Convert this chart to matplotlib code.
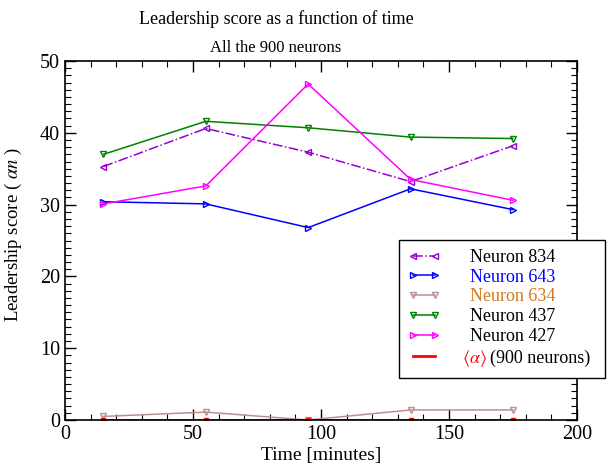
import matplotlib
matplotlib.use("Agg")
import matplotlib.pyplot as plt
from matplotlib.ticker import MultipleLocator

plt.rcParams['font.family'] = ['Liberation Serif', 'DejaVu Serif']
plt.rcParams['mathtext.fontset'] = 'stix'

time = [15, 55, 95, 135, 175]
n834 = [35.3, 40.6, 37.3, 33.2, 38.2]
n643 = [30.4, 30.1, 26.8, 32.2, 29.3]
n634 = [0.5, 1.1, 0.0, 1.4, 1.4]
n437 = [37.0, 41.6, 40.7, 39.4, 39.2]
n427 = [30.1, 32.6, 46.8, 33.5, 30.6]
mean_alpha = [0.05, 0.05, 0.05, 0.05, 0.05]

W, H = 608, 469
fig = plt.figure(figsize=(W/100, H/100), dpi=100)
ax = fig.add_axes([65/W, 1-420/H, (577-65)/W, (420-61)/H])

lw = 1.1
ms = 5
ax.plot(time, n834, color='#9400D3', ls='-.', marker='<', mfc='none', lw=lw, ms=ms, label='Neuron 834')
ax.plot(time, n643, color='#0000FF', ls='-', marker='>', mfc='none', lw=lw, ms=ms, label='Neuron 643')
ax.plot(time, n634, color='#BC8F8F', ls='-', marker='v', mfc='none', lw=lw, ms=ms, label='Neuron 634')
ax.plot(time, n437, color='#008000', ls='-', marker='v', mfc='none', lw=lw, ms=ms, label='Neuron 437')
ax.plot(time, n427, color='#FF00FF', ls='-', marker='>', mfc='none', lw=lw, ms=ms, label='Neuron 427')
ax.plot(time, mean_alpha, color='#FF0000', ls='-', lw=2, label=r'$\langle\alpha\rangle$')
ax.plot(time, mean_alpha, color='#FF0000', ls='none', marker='s', ms=2.5, label='_nolegend_')

ax.set_xlim(0, 200)
ax.set_ylim(0, 50)
ax.xaxis.set_major_locator(MultipleLocator(50))
ax.xaxis.set_minor_locator(MultipleLocator(10))
ax.yaxis.set_major_locator(MultipleLocator(10))
ax.yaxis.set_minor_locator(MultipleLocator(1))
ax.tick_params(which='both', direction='in', top=True, right=True, labelsize=14.5)
ax.tick_params(which='major', length=8, width=1)
ax.tick_params(which='minor', length=4, width=0.8)
for s in ax.spines.values():
    s.set_linewidth(1.2)

ax.set_xlabel('Time [minutes]', fontsize=14, labelpad=2)
ax.set_ylabel(r'Leadership score ( $\alpha n$ )', fontsize=13.5)
ax.yaxis.set_label_coords(-(65-24)/(577-65), (420-235)/(420-61))
fig.text(276/W, 1-19/H, 'Leadership score as a function of time', ha='center', va='center', fontsize=13)
fig.text(276/W, 1-48/H, 'All the 900 neurons', ha='center', va='center', fontsize=12)

leg = ax.legend(loc='upper left', bbox_to_anchor=(399/W, 1-375/H, 206/W, 135/H),
                bbox_transform=fig.transFigure, mode='expand',
                borderaxespad=0, fontsize=13, numpoints=2, handlelength=1.8, handletextpad=1.65,
                borderpad=0.5, labelspacing=0.15, fancybox=False, framealpha=1, edgecolor='black')
leg.get_frame().set_linewidth(1.0)
texts = leg.get_texts()
texts[1].set_color('#0000FF')
texts[2].set_color('#D2781E')
texts[5].set_color('#FF0000')
texts[5].set_position((-8, 0))

# black remainder of the last legend label, placed after the red symbol
fig.canvas.draw()
r = fig.canvas.get_renderer()
bx, by = texts[5].get_transform().transform(texts[5].get_position())
ext = texts[5].get_window_extent(r)
fig.text((ext.x1 + 3)/W, by/H, '(900 neurons)', color='black', fontsize=13,
         ha='left', va='baseline', zorder=10)

fig.savefig('out.png', dpi=100)
